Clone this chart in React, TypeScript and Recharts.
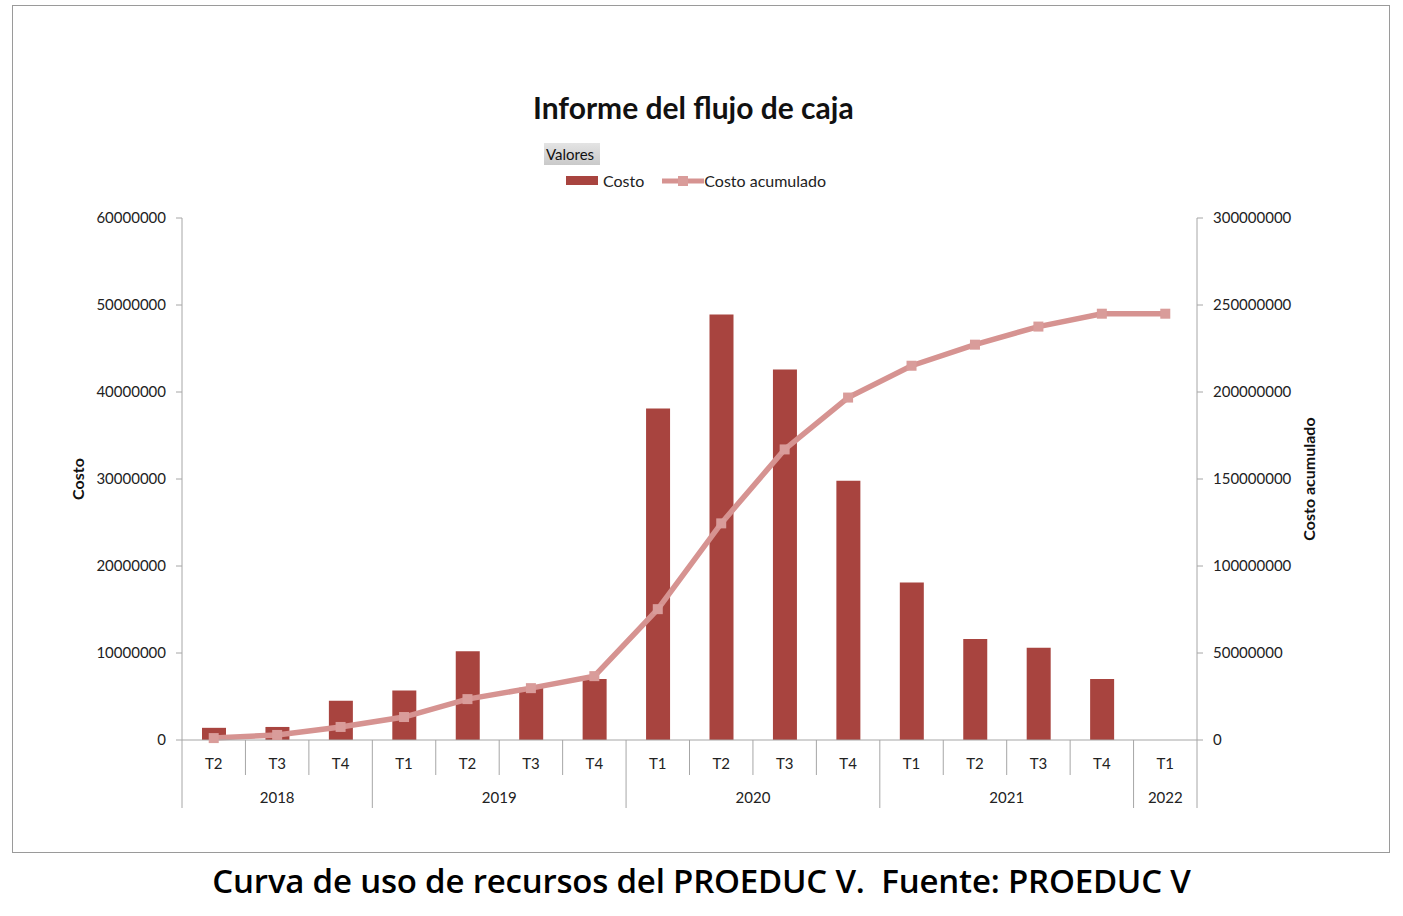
import React from "react";
import {
  ComposedChart,
  Bar,
  Line,
  XAxis,
  YAxis,
  Legend,
} from "recharts";

const quarters = ["T2", "T3", "T4", "T1", "T2", "T3", "T4", "T1", "T2", "T3", "T4", "T1", "T2", "T3", "T4", "T1"];
const years = ["2018", "2018", "2018", "2019", "2019", "2019", "2019", "2020", "2020", "2020", "2020", "2021", "2021", "2021", "2021", "2022"];
const costo = [1400000, 1500000, 4500000, 5700000, 10200000, 6000000, 7000000, 38100000, 48900000, 42600000, 29800000, 18100000, 11600000, 10600000, 7000000, 0];
const costoAcumulado = [1100000, 2900000, 7500000, 13200000, 23500000, 29800000, 36700000, 75200000, 124500000, 167000000, 196800000, 215100000, 227200000, 237600000, 245000000, 245000000];
const leftTicks = [0, 10000000, 20000000, 30000000, 40000000, 50000000, 60000000];
const rightTicks = [0, 50000000, 100000000, 150000000, 200000000, 250000000, 300000000];

const data = quarters.map((q, i) => ({
  key: `${years[i]}-${q}-${i}`,
  quarter: q,
  year: years[i],
  costo: costo[i],
  acumulado: costoAcumulado[i],
}));

const FONT = "Lato, 'Open Sans', sans-serif";
const BAR = "#A8443F";
const LINE = "#D69391";
const AXIS = "#A6A6A6";
const TEXT = "#222";

const CHART_W = 1378;
const CHART_H = 848;
const PLOT_LEFT = 170;
const PLOT_RIGHT = 193;
const LEGEND_H = 60;
const BAND = (CHART_W - PLOT_LEFT - PLOT_RIGHT) / quarters.length;

function CategoryTick(props: any) {
  const { x, y, payload } = props;
  const i = payload.index as number;
  const left = x - BAND / 2;
  const right = x + BAND / 2;
  const newYear = i === 0 || years[i] !== years[i - 1];
  let groupLen = 0;
  if (newYear) {
    while (i + groupLen < years.length && years[i + groupLen] === years[i]) groupLen++;
  }
  const top = y - 8;
  return (
    <g>
      <line x1={left} x2={left} y1={top} y2={newYear ? top + 68 : top + 35} stroke={AXIS} />
      {i === quarters.length - 1 && (
        <line x1={right} x2={right} y1={top} y2={top + 68} stroke={AXIS} />
      )}
      <text x={x} y={top + 29} textAnchor="middle" fontSize={15} fill={TEXT} fontFamily={FONT}>
        {quarters[i]}
      </text>
      {newYear && (
        <text
          x={left + (groupLen * BAND) / 2}
          y={top + 63}
          textAnchor="middle"
          fontSize={15}
          fill={TEXT}
          fontFamily={FONT}
        >
          {years[i]}
        </text>
      )}
    </g>
  );
}

function SquareDot(props: any) {
  const { cx, cy } = props;
  if (cx == null || cy == null) return null;
  return <rect x={cx - 5} y={cy - 5} width={10} height={10} fill="#D99C9A" />;
}

function LegendBox() {
  return (
    <div style={{ fontFamily: FONT, fontSize: 16, color: TEXT, position: "relative", height: LEGEND_H }}>
      <div
        style={{
          position: "absolute",
          left: 532,
          top: 0,
          width: 54,
          height: 22,
          paddingLeft: 2,
          background: "linear-gradient(#e4e4e4, #c9c9c9)",
          lineHeight: "22px",
          fontSize: 15,
          color: "#111",
          textAlign: "left",
        }}
      >
        Valores
      </div>
      <div style={{ position: "absolute", left: 554, top: 28, display: "flex", alignItems: "center", whiteSpace: "nowrap" }}>
        <span style={{ display: "inline-block", width: 32, height: 9, background: BAR, marginRight: 5 }} />
        <span>Costo</span>
        <svg width={42} height={12} style={{ marginLeft: 18 }}>
          <line x1={0} x2={42} y1={6} y2={6} stroke={LINE} strokeWidth={5} />
          <rect x={16} y={1} width={10} height={10} fill="#D99C9A" />
        </svg>
        <span>Costo acumulado</span>
      </div>
    </div>
  );
}

export default function App() {
  return (
    <div style={{ position: "absolute", left: 0, top: 0, width: 1403, height: 916, background: "#fff", fontFamily: FONT }}>
      <div
        style={{
          position: "absolute",
          left: 12,
          top: 5,
          width: CHART_W,
          height: CHART_H,
          border: "1px solid #9a9a9a",
          boxSizing: "border-box",
        }}
      />
      <div style={{ position: "absolute", left: 533, top: 89, fontSize: 30, fontWeight: 700, color: "#111", whiteSpace: "nowrap" }}>
        Informe del flujo de caja
      </div>
      <div style={{ position: "absolute", left: 12, top: 5 }}>
        <ComposedChart
          width={CHART_W}
          height={CHART_H}
          data={data}
          margin={{ top: 213 - LEGEND_H, right: 0, bottom: 45, left: 0 }}
          barCategoryGap="31%"
        >
          <XAxis
            dataKey="key"
            xAxisId="x"
            height={68}
            axisLine={{ stroke: AXIS }}
            tickLine={false}
            interval={0}
            tick={<CategoryTick />}
          />
          <YAxis
            yAxisId="left"
            orientation="left"
            width={PLOT_LEFT}
            domain={[0, 60000000]}
            ticks={leftTicks}
            interval={0}
            axisLine={{ stroke: AXIS }}
            tickLine={{ stroke: AXIS }}
            tickSize={6}
            tickMargin={10}
            tick={{ fontSize: 15, fill: TEXT, fontFamily: FONT }}
            label={{
              value: "Costo",
              angle: -90,
              position: "insideLeft",
              offset: 66,
              style: { fontSize: 16, fontWeight: 700, fill: "#111", fontFamily: FONT, textAnchor: "middle" },
            }}
          />
          <YAxis
            yAxisId="right"
            orientation="right"
            width={PLOT_RIGHT}
            domain={[0, 300000000]}
            ticks={rightTicks}
            interval={0}
            axisLine={{ stroke: AXIS }}
            tickLine={{ stroke: AXIS }}
            tickSize={6}
            tickMargin={10}
            tick={{ fontSize: 15, fill: TEXT, fontFamily: FONT }}
            label={{
              value: "Costo acumulado",
              angle: -90,
              position: "insideRight",
              offset: 81,
              style: { fontSize: 16, fontWeight: 700, fill: "#111", fontFamily: FONT, textAnchor: "middle" },
            }}
          />
          <Legend
            verticalAlign="top"
            align="left"
            height={LEGEND_H}
            wrapperStyle={{ top: 138, left: 0, width: CHART_W }}
            content={<LegendBox />}
          />
          <Bar
            dataKey="costo"
            name="Costo"
            xAxisId="x"
            yAxisId="left"
            fill={BAR}
            barSize={24}
            isAnimationActive={false}
          />
          <Line
            dataKey="acumulado"
            name="Costo acumulado"
            xAxisId="x"
            yAxisId="right"
            type="linear"
            stroke={LINE}
            strokeWidth={5.5}
            dot={<SquareDot />}
            activeDot={false}
            isAnimationActive={false}
          />
        </ComposedChart>
      </div>
      <div
        style={{
          position: "absolute",
          left: 0,
          top: 858,
          width: 1403,
          textAlign: "center",
          fontFamily: "'Open Sans', sans-serif",
          fontSize: 33,
          fontWeight: 600,
          letterSpacing: -0.2,
          color: "#000",
          whiteSpace: "pre",
        }}
      >
        {"Curva de uso de recursos del PROEDUC V.  Fuente: PROEDUC V"}
      </div>
    </div>
  );
}
